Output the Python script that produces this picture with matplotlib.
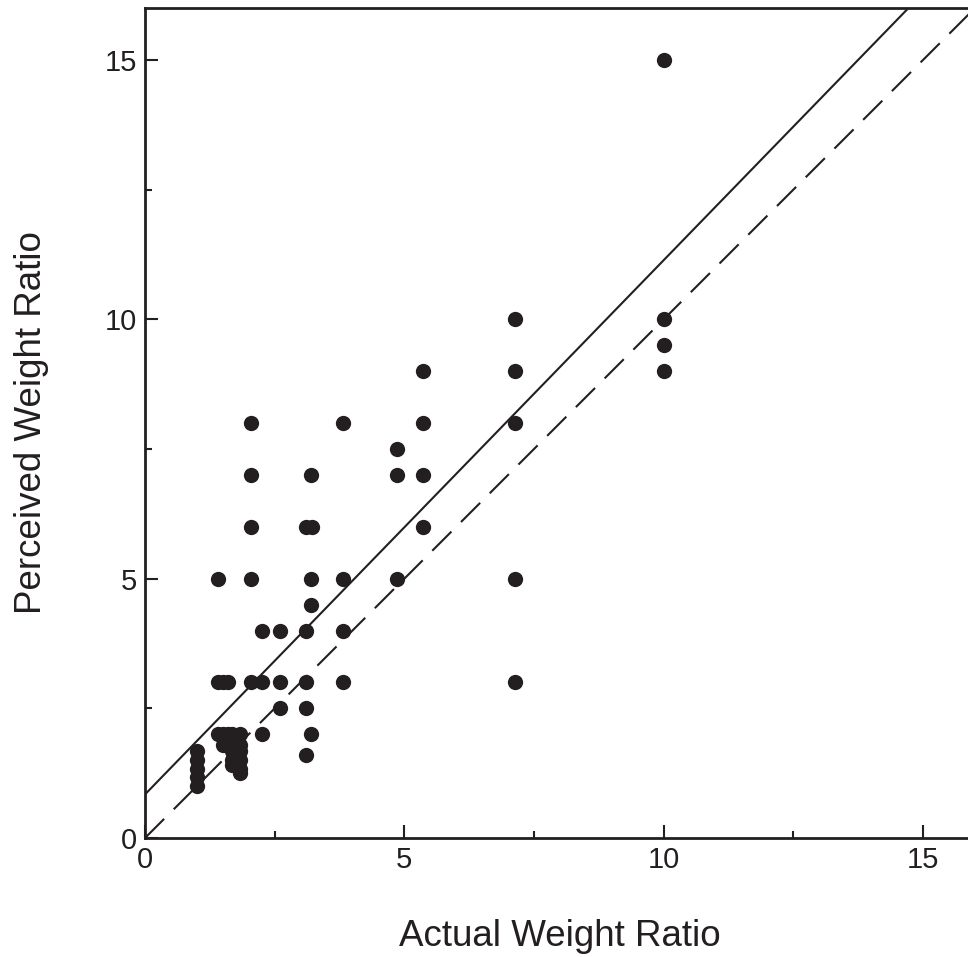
import numpy as np
import matplotlib.pyplot as plt
from matplotlib.ticker import MultipleLocator

plt.rcParams['font.family'] = ['Liberation Sans', 'DejaVu Sans']

# actual vs perceived weight ratios
actual = [1.0, 1.0, 1.0, 1.0, 1.0,
          1.41, 1.41, 1.41,
          1.5, 1.5, 1.5,
          1.6, 1.6, 1.6,
          1.68, 1.68, 1.68, 1.68,
          1.83, 1.83, 1.83, 1.83, 1.83, 1.83,
          2.05, 2.05, 2.05, 2.05, 2.05,
          2.26, 2.26, 2.26,
          2.6, 2.6, 2.6,
          3.1, 3.11, 3.11, 3.11, 3.11,
          3.2, 3.22, 3.2, 3.2, 3.2,
          3.81, 3.81, 3.81, 3.81,
          4.85, 4.85, 4.85,
          5.36, 5.36, 5.36, 5.36,
          7.13, 7.13, 7.13, 7.13, 7.13,
          10.0, 10.0, 10.0, 10.0]
perceived = [1.0, 1.17, 1.33, 1.5, 1.67,
             5.0, 3.0, 2.0,
             3.0, 2.0, 1.8,
             3.0, 2.0, 1.8,
             2.0, 1.67, 1.5, 1.4,
             2.0, 1.8, 1.67, 1.5, 1.33, 1.25,
             8.0, 7.0, 6.0, 5.0, 3.0,
             4.0, 3.0, 2.0,
             4.0, 3.0, 2.5,
             6.0, 4.0, 3.0, 2.5, 1.6,
             7.0, 6.0, 5.0, 4.5, 2.0,
             8.0, 5.0, 4.0, 3.0,
             7.5, 7.0, 5.0,
             9.0, 8.0, 7.0, 6.0,
             10.0, 9.0, 8.0, 5.0, 3.0,
             15.0, 10.0, 9.5, 9.0]

# fitted line and identity line
fit_slope = 1.03
fit_intercept = 0.84

ink = '#231f20'

fig = plt.figure(figsize=(9.68, 9.57), dpi=100)
ax = fig.add_axes([145 / 968, 119 / 957, 830 / 968, 830 / 957])

xx = np.array([0, 16])
ax.plot(xx, fit_intercept + fit_slope * xx, color=ink, lw=1.5)
ax.plot(xx, xx, color=ink, lw=1.5, ls=(0, (13, 6.5)))
ax.plot(actual, perceived, 'o', color=ink, ms=11, mew=0)

ax.set_xlim(0, 16)
ax.set_ylim(0, 16)

for a in (ax.xaxis, ax.yaxis):
    a.set_major_locator(MultipleLocator(5))
    a.set_minor_locator(MultipleLocator(2.5))
ax.tick_params(which='major', direction='in', length=9.5, width=1.5,
               labelsize=21, pad=6, color=ink, labelcolor=ink)
ax.tick_params(which='minor', direction='in', length=5, width=1.5, color=ink)
for s in ax.spines.values():
    s.set_linewidth(2)
    s.set_color(ink)

ax.set_xlabel('Actual Weight Ratio', fontsize=26.5, color=ink, labelpad=32)
ax.set_ylabel('Perceived Weight Ratio', fontsize=26.5, color=ink, labelpad=40)

plt.savefig('out.png', dpi=100)
